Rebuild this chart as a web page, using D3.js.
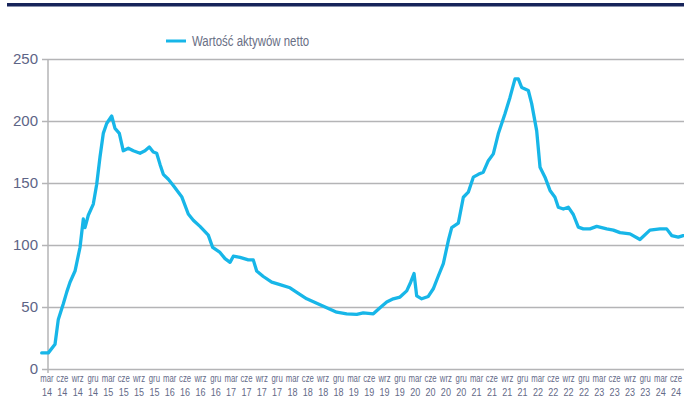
<!DOCTYPE html>
<html>
<head>
<meta charset="utf-8">
<script src="https://cdn.jsdelivr.net/npm/d3@7"></script>
<style>
  body { margin: 0; background: #fff; }
  svg { display: block; font-family: "Liberation Sans", Arial, sans-serif; }
</style>
</head>
<body>
<svg id="chart" width="684" height="400"></svg>
<script>
// data: time as decimal year, value of net assets
var dates = [2014.065, 2014.172, 2014.28, 2014.333, 2014.414, 2014.469, 2014.522, 2014.603, 2014.683, 2014.737,
  2014.764, 2014.817, 2014.898, 2014.953, 2015.006, 2015.059, 2015.114, 2015.195, 2015.248, 2015.318,
  2015.382, 2015.463, 2015.544, 2015.652, 2015.732, 2015.802, 2015.866, 2015.921, 2015.975, 2016.028,
  2016.109, 2016.189, 2016.325, 2016.431, 2016.512, 2016.62, 2016.754, 2016.825, 2016.943, 2017.024,
  2017.105, 2017.158, 2017.266, 2017.4, 2017.48, 2017.535, 2017.642, 2017.778, 2017.911, 2018.073,
  2018.207, 2018.343, 2018.504, 2018.666, 2018.827, 2018.988, 2019.15, 2019.256, 2019.418, 2019.526,
  2019.634, 2019.74, 2019.849, 2019.957, 2020.021, 2020.075, 2020.118, 2020.199, 2020.305, 2020.386,
  2020.467, 2020.548, 2020.629, 2020.683, 2020.79, 2020.871, 2020.951, 2021.032, 2021.113, 2021.193,
  2021.274, 2021.355, 2021.435, 2021.543, 2021.624, 2021.705, 2021.758, 2021.813, 2021.92, 2021.974,
  2022.055, 2022.109, 2022.189, 2022.27, 2022.35, 2022.404, 2022.485, 2022.565, 2022.646, 2022.727,
  2022.807, 2022.915, 2023.024, 2023.185, 2023.292, 2023.4, 2023.561, 2023.722, 2023.883, 2024.045,
  2024.153, 2024.234, 2024.34, 2024.42];
var values = [13, 13, 20, 40, 52.6, 62, 70, 79, 98, 121,
  114, 124, 133, 149, 171, 190, 198, 204, 194, 190,
  176, 178, 176, 174, 176, 179, 175, 174, 165, 157,
  153, 148, 139, 125, 120, 115, 108, 98, 94, 89,
  86, 91, 90, 88, 88, 79, 74.6, 70, 68, 65.5,
  61, 56.6, 53, 49.4, 45.8, 44.5, 44, 45.3, 44.5, 49.4,
  54, 56.6, 58, 63, 70, 77, 59, 56.6, 58.5, 64.7,
  75, 85, 103.6, 114, 117.6, 138.5, 142.6, 154.7, 157, 158.7,
  168, 173.5, 189.7, 205.8, 219, 234, 234, 227, 224.6, 214,
  192, 162.7, 154.7, 144, 138.5, 130.5, 129, 130.5, 124.6, 114.4,
  113, 113, 115, 113, 112, 110, 109, 104.4, 112, 113,
  113, 107.6, 106.3, 107.6];

var quarterMonths = ['mar', 'cze', 'wrz', 'gru'];
var labelYears = ['14', '15', '16', '17', '18', '19', '20', '21', '22', '23', '24'];
var yTicks = [0, 50, 100, 150, 200, 250];
var seriesName = 'Wartość aktywów netto';

var svg = d3.select('#chart');

var firstQuarter = 2014 + 2 / 12;  // mar 14
var lastQuarter = 2024 + 5 / 12;   // cze 24

var x = d3.scaleLinear().domain([firstQuarter, lastQuarter]).range([48, 683]);
var y = d3.scaleLinear().domain([0, 250]).range([369, 59]);

// top bar
svg.append('rect').attr('x', 7).attr('y', 3).attr('width', 677).attr('height', 3.5).attr('fill', '#17245a');

// gridlines + y labels
var yAxis = d3.axisLeft(y).tickValues(yTicks).tickSize(-(684 - 42)).tickPadding(5);
var gy = svg.append('g').attr('transform', 'translate(42,0)').call(yAxis);
gy.select('.domain').remove();
gy.selectAll('.tick line').attr('stroke', '#b4b4b6').attr('stroke-width', 1.5);
gy.selectAll('.tick text')
  .attr('fill', '#5d6486')
  .attr('font-size', 15)
  .attr('x', -4);

// y axis line
svg.append('line').attr('x1', 48).attr('x2', 48).attr('y1', y(250)).attr('y2', y(0) + 4)
  .attr('stroke', '#b4b4b6').attr('stroke-width', 1.5);

// x labels (every quarter)
var ticks = [];
labelYears.forEach(function (yr, yi) {
  quarterMonths.forEach(function (m, qi) {
    var t = 2014 + yi + (2 + qi * 3) / 12;
    if (t <= lastQuarter + 0.001) ticks.push({ t: t, m: m, yr: yr });
  });
});

// labels squeezed a little so the last one stays inside the picture
var xl = d3.scaleLinear().domain([firstQuarter, lastQuarter]).range([47, 676]);

var gx = svg.append('g').attr('class', 'x-labels');
ticks.forEach(function (d) {
  var px = xl(d.t);
  gx.append('text')
    .attr('transform', 'translate(' + px + ',382) scale(0.74,1)')
    .attr('text-anchor', 'middle').attr('font-size', 10.5).attr('fill', '#646a88')
    .text(d.m);
  gx.append('text')
    .attr('transform', 'translate(' + px + ',396) scale(0.86,1)')
    .attr('text-anchor', 'middle').attr('font-size', 10.5).attr('fill', '#646a88')
    .text(d.yr);
});

// line
var points = dates.map(function (d, i) { return [d, values[i]]; });
var line = d3.line()
  .x(function (d) { return x(d[0]); })
  .y(function (d) { return y(d[1]); });

svg.append('path')
  .datum(points)
  .attr('d', line)
  .attr('fill', 'none')
  .attr('stroke', '#17b6e8')
  .attr('stroke-width', 3.3)
  .attr('stroke-linejoin', 'round')
  .attr('stroke-linecap', 'round');

// legend
var legend = svg.append('g').attr('transform', 'translate(166,41)');
legend.append('line').attr('x1', 0).attr('x2', 20).attr('y1', 0).attr('y2', 0)
  .attr('stroke', '#17b6e8').attr('stroke-width', 3);
legend.append('text')
  .attr('transform', 'translate(26,5) scale(0.79,1)')
  .attr('font-size', 14.5).attr('fill', '#6a6f85')
  .text(seriesName);
</script>
</body>
</html>
